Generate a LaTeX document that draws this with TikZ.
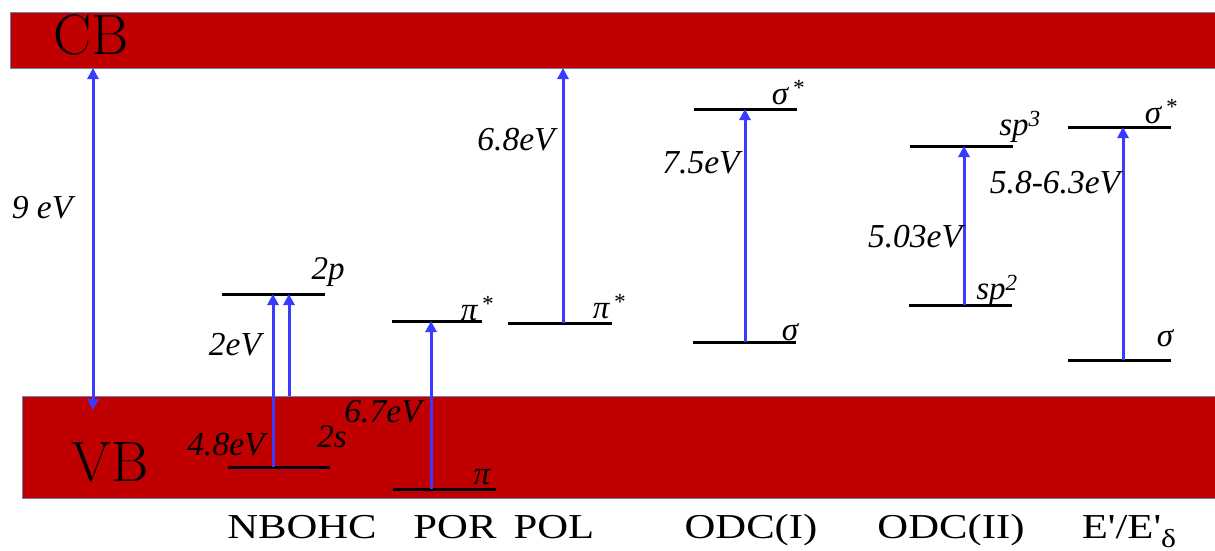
\documentclass[tikz,border=0pt]{standalone}
\usepackage{fontspec}
\newfontfamily\tnr{Liberation Serif}
\usetikzlibrary{arrows.meta}
\definecolor{bandred} {HTML}{C00000}
\definecolor{bandedge}{HTML}{7080B0}
\definecolor{trblue}  {HTML}{3B3BFF}
\newcommand{\wide}[1]{\scalebox{1.22}[1]{#1}}
\tikzset{
  band/.style  ={draw=bandedge, line width=0.8pt, fill=bandred},
  lvl/.style   ={line width=3pt, black},
  tr/.style    ={-{Triangle[length=11pt,width=11pt]}, draw=trblue,
                 line width=3pt},
  trd/.style   ={{Triangle[length=11pt,width=11pt]}-{Triangle[length=11pt,width=11pt]},
                 draw=trblue, line width=3pt},
  ev/.style    ={font=\tnr\itshape\fontsize{33.5}{36}\selectfont, inner sep=0pt},
  orb/.style   ={font=\tnr\itshape\fontsize{33}{36}\selectfont, inner sep=0pt},
  defect/.style={font=\tnr\fontsize{35}{38}\selectfont, inner sep=0pt,
                 anchor=base},
  bnd/.style   ={font=\fontsize{57}{60}\selectfont, inner sep=0pt}
}

\begin{document}
\begin{tikzpicture}[x=1pt, y=-1pt]
\useasboundingbox (0,0) rectangle (1215,551);

\draw[band] (10,12) rectangle (1216,68);
\draw[band] (22,396) rectangle (1216,498);
\node[bnd] (cb) at (91,35) {CB};
\node[bnd] (vb) at (110,462) {VB};

\foreach \xa/\xb/\y in {222/325/294, 228/330/467, 392/482/321, 393/496/489,
                        508/612/323, 694/797/109, 693/796/342, 910/1013/146,
                        909/1012/305, 1068/1171/127, 1068/1171/360}
  \draw[lvl] (\xa,\y) -- (\xb,\y);

\coordinate (gapt)  at (93,68);
\coordinate (gapb)  at (93,410);
\coordinate (nbs)   at (273,467);
\coordinate (nbp)   at (273,294);
\coordinate (nbv)   at (289,396);
\coordinate (nbp2)  at (289,294);
\coordinate (porl)  at (431,489);
\coordinate (poru)  at (431,321);
\coordinate (poll)  at (563,323);
\coordinate (polu)  at (563,68);
\coordinate (odal)  at (745,342);
\coordinate (odau)  at (745,109);
\coordinate (odbl)  at (964,305);
\coordinate (odbu)  at (964,146);
\coordinate (epl)   at (1123,360);
\coordinate (epu)   at (1123,127);

\draw[trd] (gapt) -- (gapb);
\foreach \a/\b in {nbs/nbp, nbv/nbp2, porl/poru, poll/polu, odal/odau,
                   odbl/odbu, epl/epu}
  \draw[tr] (\a) -- (\b);

\node[ev] (e9)  at (42,208)   {9 eV};
\node[ev] (e2)  at (235,345)  {2eV};
\node[ev] (e48) at (226,445)  {4.8eV};
\node[ev] (e67) at (383,412)  {6.7eV};
\node[ev] (e68) at (516,140)  {6.8eV};
\node[ev] (e75) at (701,163)  {7.5eV};
\node[ev] (e50) at (915,237)  {5.03eV};
\node[ev] (e58) at (1055,183) {5.8-6.3eV};

\node[orb] (o2p)  at (328,272)  {2p};
\node[orb] (o2s)  at (332,437)  {2s};
\node[orb] (opa)  at (477,309)  {π\textsuperscript{\,*}};
\node[orb] (opb)  at (482,477)  {π};
\node[orb] (opc)  at (609,307)  {π\textsuperscript{\,*}};
\node[orb] (osa)  at (788,93)   {σ\textsuperscript{\,*}};
\node[orb] (osb)  at (790,332)  {σ};
\node[orb] (osp3) at (1020,127) {sp\textsuperscript{3}};
\node[orb] (osp2) at (997,291)  {sp\textsuperscript{2}};
\node[orb] (osc)  at (1161,112) {σ\textsuperscript{\,*}};
\node[orb] (osd)  at (1165,338) {σ};

\node[defect] (d1) at (302,538)  {\wide{NBOHC}};
\node[defect] (d2) at (455,538)  {\wide{POR}};
\node[defect] (d3) at (554,538)  {\wide{POL}};
\node[defect] (d4) at (751,538)  {\wide{ODC(I)}};
\node[defect] (d5) at (951,538)  {\wide{ODC(II)}};
\node[defect] (d6) at (1129,538) {\wide{E'/E'\raisebox{-9pt}{\fontsize{26}{28}\selectfont δ}}};
\end{tikzpicture}
\end{document}
